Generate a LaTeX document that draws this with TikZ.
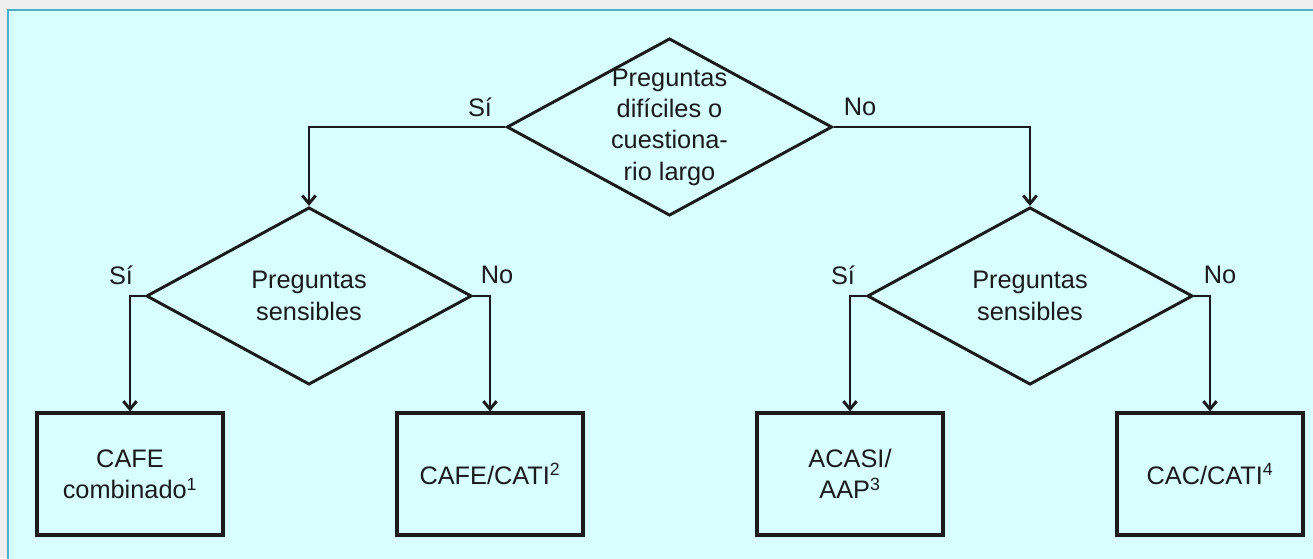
\documentclass[tikz,border=0pt]{standalone}
\usepackage{fontspec}
\setmainfont{Liberation Sans}
\usetikzlibrary{shapes.geometric,arrows.meta}
\definecolor{pageback}{HTML}{EFEFEF}
\definecolor{panelfill}{HTML}{D7FFFF}
\definecolor{panelline}{HTML}{4AAFC8}
\definecolor{inkcolor}{HTML}{1A1A1A}
\begin{document}
\begin{tikzpicture}
[x=0.75pt,y=-0.75pt,
  decision/.style={shape=diamond,draw=inkcolor,line width=2.2pt,minimum width=244pt,minimum height=133pt,inner sep=0pt},%
  choicetext/.style={align=center,inner sep=0pt,text=inkcolor,font=\fontsize{19}{23.5}\selectfont},%
  methodbox/.style={shape=rectangle,draw=inkcolor,line width=2.4pt,minimum width=139.5pt,minimum height=91.5pt,align=center,text=inkcolor,font=\fontsize{19}{23.5}\selectfont},%
  answer/.style={text=inkcolor,inner sep=0pt,font=\fontsize{19}{23}\selectfont},%
  arrowdecorate/.style={draw=inkcolor,line width=2.2pt,-{Straight Barb[length=6pt,width=10pt,line width=2.2pt]}}]
% background panel
\useasboundingbox (0,0) rectangle (1313,558);
\fill[pageback] (0,0) rectangle (1313,558);
\draw[panelline,fill=panelfill,line width=2pt] (8,10) rectangle (1330,575);
% decisions
\node (long) at (669.5,127) [decision] {};
\node (longtext) at (long.center) [choicetext] {Preguntas\\difíciles o\\cuestiona-\\rio largo};
\node (sensl) at (309,296) [decision] {};
\node (sensltext) at (sensl.center) [choicetext] {Preguntas\\sensibles};
\node (sensr) at (1030,296) [decision] {};
\node (sensrtext) at (sensr.center) [choicetext] {Preguntas\\sensibles};
% methods
\node (cafe) at (130,474) [methodbox] {CAFE\\combinado\textsuperscript{1}};
\node (cati) at (490,474) [methodbox] {CAFE/CATI\textsuperscript{2}};
\node (acasi) at (850,474) [methodbox] {ACASI/\\AAP\textsuperscript{3}};
\node (cac) at (1210,474) [methodbox] {CAC/CATI\textsuperscript{4}};
% answers
\node (longyes) at (480,107) [answer] {Sí};
\node (longno) at (860,107) [answer] {No};
\node (senslyes) at (121,275) [answer] {Sí};
\node (senslno) at (497,275) [answer] {No};
\node (sensryes) at (843,275) [answer] {Sí};
\node (sensrno) at (1220,275) [answer] {No};
% connectors
\path
(long.west) edge[arrowdecorate,to path={-| (\tikztotarget)}] (sensl.north)
(long.east) edge[arrowdecorate,to path={-| (\tikztotarget)}] (sensr.north)
(sensl.west) edge[arrowdecorate,to path={-| (\tikztotarget)}] (cafe.north)
(sensl.east) edge[arrowdecorate,to path={-| (\tikztotarget)}] (cati.north)
(sensr.west) edge[arrowdecorate,to path={-| (\tikztotarget)}] (acasi.north)
(sensr.east) edge[arrowdecorate,to path={-| (\tikztotarget)}] (cac.north);
\end{tikzpicture}
\end{document}
